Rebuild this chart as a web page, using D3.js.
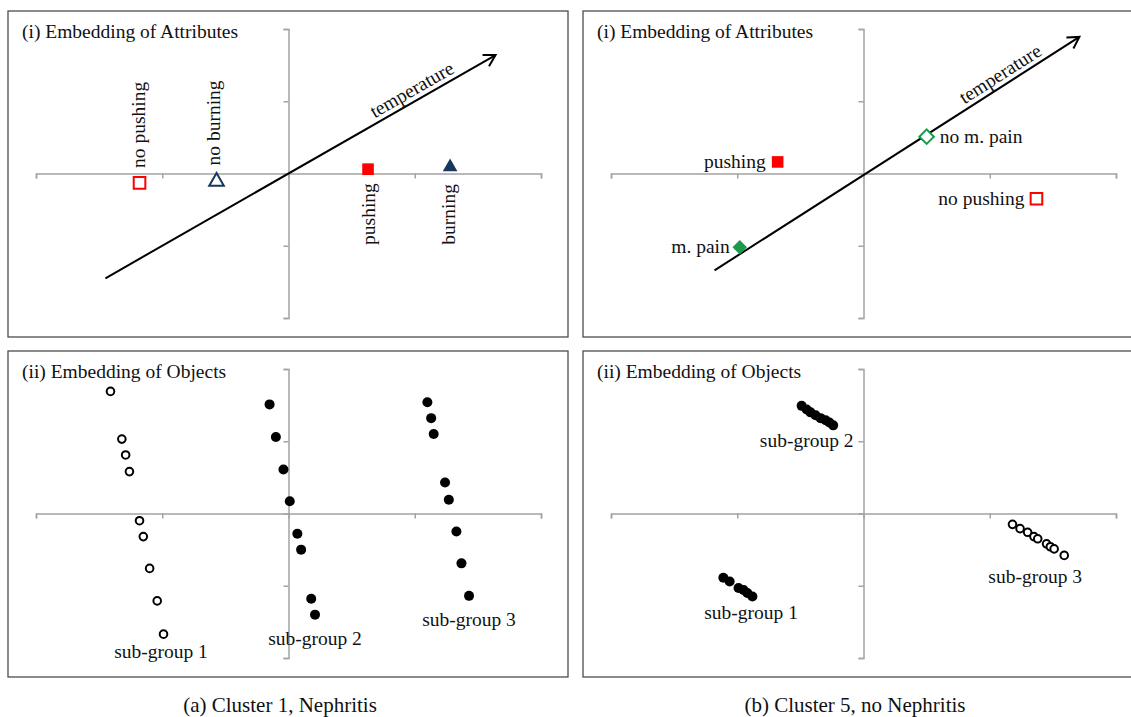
<!DOCTYPE html>
<html>
<head>
<meta charset="utf-8">
<script src="https://cdn.jsdelivr.net/npm/d3@7"></script>
<style>
  body { margin: 0; background: #fff; }
  svg { display: block; font-family: "Liberation Serif", "Times New Roman", serif; }
</style>
</head>
<body>
<svg id="fig" width="1131" height="717"></svg>
<script>
// ---------------- data ----------------
// Cluster 1 (Nephritis): attribute embedding
const attrNamesA = ["no pushing", "no burning", "pushing", "burning"];
const attrXA = [-1.18, -0.57, 0.63, 1.28];
const attrYA = [-0.13, -0.11, 0.06, 0.09];
const tempAxisA = [[-1.45, -1.45], [1.64, 1.64]];

// Cluster 5 (no Nephritis): attribute embedding
const attrNamesB = ["pushing", "no m. pain", "no pushing", "m. pain"];
const attrXB = [-0.68, 0.50, 1.37, -0.98];
const attrYB = [0.16, 0.51, -0.35, -1.02];
const tempAxisB = [[-1.18, -1.34], [1.71, 1.89]];

// Cluster 1: object embedding, three sub-groups
const objA1X = [-1.41, -1.32, -1.29, -1.26, -1.18, -1.15, -1.10, -1.04, -0.99];
const objA1Y = [1.69, 1.03, 0.81, 0.58, -0.10, -0.32, -0.76, -1.21, -1.67];
const objA2X = [-0.15, -0.10, -0.04, 0.01, 0.07, 0.10, 0.18, 0.21];
const objA2Y = [1.51, 1.06, 0.61, 0.17, -0.28, -0.50, -1.18, -1.40];
const objA3X = [1.10, 1.13, 1.15, 1.24, 1.27, 1.33, 1.37, 1.43];
const objA3Y = [1.54, 1.32, 1.10, 0.43, 0.19, -0.25, -0.69, -1.14];

// Cluster 5: object embedding, three sub-groups
const objB1X = [-1.11, -1.06, -0.99, -0.95, -0.92, -0.88];
const objB1Y = [-0.89, -0.94, -1.03, -1.06, -1.10, -1.15];
const objB2X = [-0.49, -0.45, -0.42, -0.38, -0.34, -0.30, -0.27, -0.24];
const objB2Y = [1.49, 1.44, 1.40, 1.36, 1.32, 1.29, 1.26, 1.22];
const objB3X = [1.18, 1.24, 1.30, 1.35, 1.38, 1.45, 1.48, 1.51, 1.59];
const objB3Y = [-0.15, -0.21, -0.26, -0.32, -0.35, -0.42, -0.46, -0.49, -0.58];

const subGroupNames = ["sub-group 1", "sub-group 2", "sub-group 3"];
const axisTicks = [-2, -1, 0, 1, 2];
const captions = ["(a) Cluster 1, Nephritis", "(b) Cluster 5, no Nephritis"];
const panelTitles = ["(i) Embedding of Attributes", "(ii) Embedding of Objects"];

// ---------------- styles & layout ----------------
const RED = "#ff0000", NAVY = "#17375e", GREEN = "#1a9a4c";
const attrStyle = {
  "no pushing": { shape: "square", filled: false, color: RED },
  "pushing":    { shape: "square", filled: true,  color: RED },
  "no burning": { shape: "triangle", filled: false, color: NAVY },
  "burning":    { shape: "triangle", filled: true,  color: NAVY },
  "no m. pain": { shape: "diamond", filled: false, color: GREEN },
  "m. pain":    { shape: "diamond", filled: true,  color: GREEN }
};
// label placement relative to the marker (pixels)
const labelPlaceA = {
  "no pushing": { dx: 5, dy: -15, rot: -90, anchor: "start" },
  "no burning": { dx: 3, dy: -16, rot: -90, anchor: "start" },
  "pushing":    { dx: 7, dy: 14, rot: -90, anchor: "end" },
  "burning":    { dx: 5, dy: 17, rot: -90, anchor: "end" }
};
const labelPlaceB = {
  "pushing":    { dx: -12, dy: 6, rot: 0, anchor: "end" },
  "no m. pain": { dx: 13, dy: 6, rot: 0, anchor: "start" },
  "no pushing": { dx: -12, dy: 6, rot: 0, anchor: "end" },
  "m. pain":    { dx: -10, dy: 6, rot: 0, anchor: "end" }
};
// sub-group label anchors in data space
const subLabelPosA = [[-1.01, -2.00], [0.21, -1.82], [1.43, -1.56]];
const subLabelPosB = [[-0.89, -1.46], [-0.45, 0.92], [1.36, -0.96]];

const FONT = 19.5;
const svg = d3.select("#fig");

const colX = [8, 583];
const rowY = [11, 351];
const panelW = 560, panelH = 326;

function makePanel(col, row) {
  const x0 = colX[col], y0 = rowY[row];
  const g = svg.append("g");
  g.append("rect")
    .attr("x", x0).attr("y", y0)
    .attr("width", col === 1 ? panelW + 20 : panelW)
    .attr("height", panelH)
    .attr("fill", "none").attr("stroke", "#4d4d4d").attr("stroke-width", 1.3);
  const x = d3.scaleLinear().domain([-2, 2]).range([x0 + 28, x0 + 533]);
  const y = d3.scaleLinear().domain([-2, 2]).range([y0 + 307, y0 + 18]);
  // axes through the origin
  const ax = g.append("g").attr("transform", `translate(0,${y(0)})`)
    .call(d3.axisBottom(x).tickValues(axisTicks).tickSize(5).tickSizeOuter(5).tickFormat(""));
  const ay = g.append("g").attr("transform", `translate(${x(0)},0)`)
    .call(d3.axisLeft(y).tickValues(axisTicks).tickSize(5).tickSizeOuter(5).tickFormat(""));
  [ax, ay].forEach(a => {
    a.selectAll("text").remove();
    a.selectAll("path,line").attr("stroke", "#a3a3a3").attr("stroke-width", 1.5);
  });
  g.append("text")
    .attr("x", x0 + 14).attr("y", y0 + 27)
    .attr("font-size", FONT).attr("fill", "#111")
    .text(panelTitles[row]);
  return { g, x, y };
}

function symbolPath(shape) {
  if (shape === "square") return d3.symbol(d3.symbolSquare, 135)();
  if (shape === "triangle") return d3.symbol(d3.symbolTriangle, 92)();
  return d3.symbol(d3.symbolSquare, 105)();
}

function drawTemperature(p, seg) {
  const [a, b] = seg.map(d => [p.x(d[0]), p.y(d[1])]);
  p.g.append("line")
    .attr("x1", a[0]).attr("y1", a[1]).attr("x2", b[0]).attr("y2", b[1])
    .attr("stroke", "#000").attr("stroke-width", 2);
  const ang = Math.atan2(b[1] - a[1], b[0] - a[0]);
  const head = 13, spread = Math.PI / 6;
  const hp = d3.path();
  hp.moveTo(b[0] - head * Math.cos(ang - spread), b[1] - head * Math.sin(ang - spread));
  hp.lineTo(b[0], b[1]);
  hp.lineTo(b[0] - head * Math.cos(ang + spread), b[1] - head * Math.sin(ang + spread));
  p.g.append("path").attr("d", hp.toString())
    .attr("fill", "none").attr("stroke", "#000").attr("stroke-width", 2);
  const t = 0.8;
  const lx = a[0] + (b[0] - a[0]) * t, ly = a[1] + (b[1] - a[1]) * t;
  p.g.append("text")
    .attr("transform", `translate(${lx},${ly}) rotate(${ang * 180 / Math.PI})`)
    .attr("text-anchor", "middle").attr("dy", -5)
    .attr("font-size", FONT).attr("fill", "#111")
    .text("temperature");
}

function drawAttributes(p, names, xs, ys, places) {
  const data = names.map((n, i) => ({ name: n, x: xs[i], y: ys[i] }));
  const m = p.g.selectAll(".attr").data(data).enter().append("g")
    .attr("transform", d => `translate(${p.x(d.x)},${p.y(d.y)})`);
  m.append("path")
    .attr("d", d => symbolPath(attrStyle[d.name].shape))
    .attr("transform", d => attrStyle[d.name].shape === "diamond" ? "rotate(45)" : null)
    .attr("fill", d => attrStyle[d.name].filled ? attrStyle[d.name].color : "#fff")
    .attr("stroke", d => attrStyle[d.name].color)
    .attr("stroke-width", d => attrStyle[d.name].filled ? 0 : 2);
  m.append("text")
    .attr("transform", d => `translate(${places[d.name].dx},${places[d.name].dy}) rotate(${places[d.name].rot})`)
    .attr("text-anchor", d => places[d.name].anchor)
    .attr("font-size", FONT).attr("fill", "#111")
    .text(d => d.name);
}

function drawObjects(p, groups, labelPos) {
  groups.forEach((grp, gi) => {
    const pts = grp.xs.map((v, i) => ({ x: v, y: grp.ys[i] }));
    p.g.append("g").selectAll("circle").data(pts).enter().append("circle")
      .attr("cx", d => p.x(d.x)).attr("cy", d => p.y(d.y))
      .attr("r", grp.filled ? 5 : 3.8)
      .attr("fill", grp.filled ? "#000" : "#fff")
      .attr("stroke", "#000").attr("stroke-width", grp.filled ? 0 : 2);
    p.g.append("text")
      .attr("x", p.x(labelPos[gi][0])).attr("y", p.y(labelPos[gi][1]))
      .attr("text-anchor", "middle")
      .attr("font-size", FONT).attr("fill", "#111")
      .text(subGroupNames[gi]);
  });
}

// (a) Cluster 1
const pA1 = makePanel(0, 0);
drawTemperature(pA1, tempAxisA);
drawAttributes(pA1, attrNamesA, attrXA, attrYA, labelPlaceA);
const pA2 = makePanel(0, 1);
drawObjects(pA2, [
  { xs: objA1X, ys: objA1Y, filled: false },
  { xs: objA2X, ys: objA2Y, filled: true },
  { xs: objA3X, ys: objA3Y, filled: true }
], subLabelPosA);

// (b) Cluster 5
const pB1 = makePanel(1, 0);
drawTemperature(pB1, tempAxisB);
drawAttributes(pB1, attrNamesB, attrXB, attrYB, labelPlaceB);
const pB2 = makePanel(1, 1);
drawObjects(pB2, [
  { xs: objB1X, ys: objB1Y, filled: true },
  { xs: objB2X, ys: objB2Y, filled: true },
  { xs: objB3X, ys: objB3Y, filled: false }
], subLabelPosB);

// captions
svg.selectAll(".cap").data(captions).enter().append("text")
  .attr("x", (d, i) => i === 0 ? 280 : 855)
  .attr("y", 712)
  .attr("text-anchor", "middle")
  .attr("font-size", 21).attr("fill", "#111")
  .text(d => d);
</script>
</body>
</html>
